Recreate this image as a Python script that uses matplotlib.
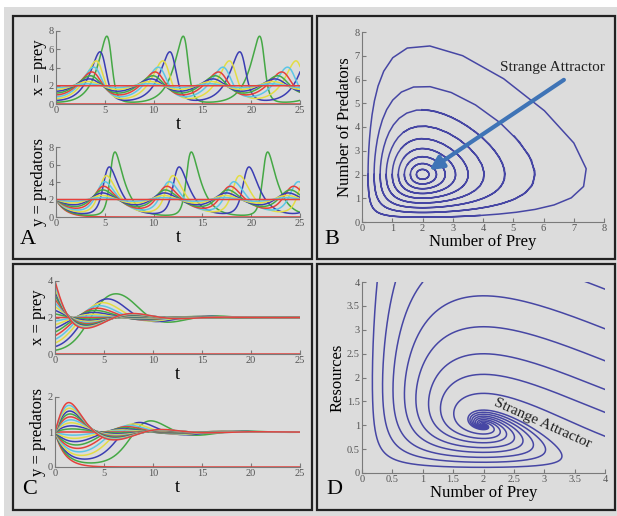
import numpy as np
import matplotlib
matplotlib.use("Agg")
import matplotlib.pyplot as plt
from matplotlib.patches import Rectangle
from matplotlib.ticker import FuncFormatter

plt.rcParams['font.family'] = ['Liberation Serif', 'DejaVu Serif']

# model constants (equilibria at (2,2) and (2,1))
lv_a, lv_b, lv_c, lv_d = 1.0, 0.5, 1.0, 0.5
carrying_cap = 4.0

# panel A / B : starting prey, starting predators = 2
prey0_A = [0.0, 0.2, 0.4, 0.6, 0.8, 1.0, 1.2, 1.4, 1.6, 1.8, 2.0]
pred0_A = 2.0
# panel C : starting prey, starting predators = 1
prey0_C = [0.0, 0.2, 0.4, 0.6, 0.8, 1.0, 1.2, 1.4, 1.6, 1.8, 2.0,
           2.2, 2.4, 2.6, 2.8, 3.0, 3.2, 3.4, 3.6, 3.8, 4.0]
pred0_C = 1.0
# panel D : where each trajectory enters the box
start_prey_D = [0.25, 0.55, 1.0, 4.0, 4.0, 4.0, 4.0, 4.0, 4.0]
start_res_D = [4.0, 4.0, 4.0, 3.85, 3.02, 2.35, 1.75, 1.27, 0.77]

line_colors = ['#e5413c', '#45a845', '#3b3db3', '#e3dc45', '#5cc6e6']
orbit_color = '#4646a4'
arrow_color = '#3f74b6'


def lv_plain(x, y):
    return lv_a * x - lv_b * x * y, -lv_c * y + lv_d * x * y


def lv_logistic(x, y):
    return lv_a * x * (1 - x / carrying_cap) - lv_b * x * y, -lv_c * y + lv_d * x * y


def rk4(f, x0, y0, t_end, dt=0.01):
    n = int(round(t_end / dt))
    x = np.empty((n + 1, len(x0)))
    y = np.empty((n + 1, len(x0)))
    x[0], y[0] = x0, y0
    for i in range(n):
        xi, yi = x[i], y[i]
        k1 = f(xi, yi)
        k2 = f(xi + dt / 2 * k1[0], yi + dt / 2 * k1[1])
        k3 = f(xi + dt / 2 * k2[0], yi + dt / 2 * k2[1])
        k4 = f(xi + dt * k3[0], yi + dt * k3[1])
        x[i + 1] = xi + dt / 6 * (k1[0] + 2 * k2[0] + 2 * k3[0] + k4[0])
        y[i + 1] = yi + dt / 6 * (k1[1] + 2 * k2[1] + 2 * k3[1] + k4[1])
    return np.linspace(0, t_end, n + 1), x, y


def style(ax, xt, yt, fmt=None):
    for s in ['top', 'right']:
        ax.spines[s].set_visible(False)
    for s in ['left', 'bottom']:
        ax.spines[s].set_color('#7a7a7a')
    ax.patch.set_alpha(0)
    ax.set_xticks(xt)
    ax.set_yticks(yt)
    ax.tick_params(direction='in', length=3, width=0.8, color='#7a7a7a',
                   labelsize=7.5, pad=1.5, labelcolor='#555555')
    if fmt:
        ax.xaxis.set_major_formatter(FuncFormatter(lambda v, p: '%g' % v))
        ax.yaxis.set_major_formatter(FuncFormatter(lambda v, p: '%g' % v))


fig = plt.figure(figsize=(6.17, 5.16), dpi=100, facecolor='#dcdcdc')
W, H = 617.0, 516.0

fig.patches.append(Rectangle((0, 1 - 7 / H), 1, 7 / H, transform=fig.transFigure,
                             facecolor='white', edgecolor='none', zorder=-5))
fig.patches.append(Rectangle((0, 0), 4 / W, 1, transform=fig.transFigure,
                             facecolor='white', edgecolor='none', zorder=-5))
for (x0, y0, x1, y1) in [(13, 16, 312, 259), (317, 16, 615, 259),
                         (13, 264, 312, 510), (317, 264, 615, 510)]:
    fig.patches.append(Rectangle((x0 / W, 1 - y1 / H), (x1 - x0) / W, (y1 - y0) / H,
                                 transform=fig.transFigure, facecolor='none',
                                 edgecolor='#222222', lw=1.6, zorder=-4))


def add_ax(px0, py0, px1, py1):
    return fig.add_axes([px0 / W, 1 - py1 / H, (px1 - px0) / W, (py1 - py0) / H])


# ---- A
tA, xA, yA = rk4(lv_plain, np.array(prey0_A), np.full(len(prey0_A), pred0_A), 25)
axA1 = add_ax(56, 31, 300, 104)
axA2 = add_ax(56, 147, 300, 217)
for i in range(len(prey0_A)):
    c = line_colors[i % 5]
    axA1.plot(tA, xA[:, i], color=c, lw=1.1)
    axA2.plot(tA, yA[:, i], color=c, lw=1.1)
for ax, lab in [(axA1, 'x = prey'), (axA2, 'y = predators')]:
    ax.set_xlim(0, 25)
    ax.set_ylim(0, 8)
    style(ax, [0, 5, 10, 15, 20, 25], [0, 2, 4, 6, 8])
    ax.set_xlabel('t', fontsize=13, labelpad=1)
    ax.set_ylabel(lab, fontsize=12, labelpad=1)

# ---- B
tB, xB, yB = rk4(lv_plain, np.array(prey0_A[1:-1]), np.full(len(prey0_A) - 2, pred0_A), 12, dt=0.01)
axB = add_ax(362, 32, 604, 222)
for i in range(xB.shape[1]):
    axB.plot(xB[::15, i], yB[::15, i], color=orbit_color, lw=1.1)
axB.set_xlim(0, 8)
axB.set_ylim(0, 8)
style(axB, range(9), range(9))
axB.set_xlabel('Number of Prey', fontsize=12, labelpad=1)
axB.set_ylabel('Number of Predators', fontsize=12, labelpad=1)
axB.annotate('', xy=(2.15, 2.12), xytext=(6.75, 6.05),
             arrowprops=dict(arrowstyle='-|>', color=arrow_color, lw=3, mutation_scale=20))
axB.text(6.3, 6.5, 'Strange Attractor', fontsize=11, ha='center', va='center', color='#222222')

# ---- C
tC, xC, yC = rk4(lv_logistic, np.array(prey0_C), np.full(len(prey0_C), pred0_C), 25)
axC1 = add_ax(55, 281, 300, 354)
axC2 = add_ax(55, 397, 300, 467)
for i in range(len(prey0_C)):
    c = line_colors[i % 5]
    axC1.plot(tC, xC[:, i], color=c, lw=1.1)
    axC2.plot(tC, yC[:, i], color=c, lw=1.1)
axC1.set_ylim(0, 4)
axC2.set_ylim(0, 2)
style(axC1, [0, 5, 10, 15, 20, 25], [0, 2, 4])
style(axC2, [0, 5, 10, 15, 20, 25], [0, 1, 2])
for ax, lab in [(axC1, 'x = prey'), (axC2, 'y = predators')]:
    ax.set_xlim(0, 25)
    ax.set_xlabel('t', fontsize=13, labelpad=1)
    ax.set_ylabel(lab, fontsize=12, labelpad=1)

# ---- D
tD, xD, yD = rk4(lv_logistic, np.array(start_prey_D), np.array(start_res_D), 40)
axD = add_ax(362, 282, 605, 473)
for i in range(len(start_prey_D)):
    xs, ys = xD[:, i], yD[:, i]
    # stop a trajectory once it leaves the box
    out = np.nonzero((xs > 4.001) | (ys > 4.001))[0]
    stop = out[0] + 1 if len(out) else len(xs)
    axD.plot(xs[:stop], ys[:stop], color=orbit_color, lw=1.1)
axD.set_xlim(0, 4)
axD.set_ylim(0, 4)
ticksD = [0, 0.5, 1, 1.5, 2, 2.5, 3, 3.5, 4]
style(axD, ticksD, ticksD, fmt=True)
axD.set_xlabel('Number of Prey', fontsize=12, labelpad=1)
axD.set_ylabel('Resources', fontsize=12, labelpad=1)
axD.text(2.98, 1.03, 'Strange Attractor', fontsize=11, rotation=-24,
         ha='center', va='center', color='#222222')

for lab, px, py in [('A', 20, 240), ('B', 324, 240), ('C', 22, 490), ('D', 326, 490)]:
    fig.text(px / W, 1 - py / H, lab, fontsize=16, ha='left', va='center')

fig.savefig('out.png', dpi=100, facecolor=fig.get_facecolor())
